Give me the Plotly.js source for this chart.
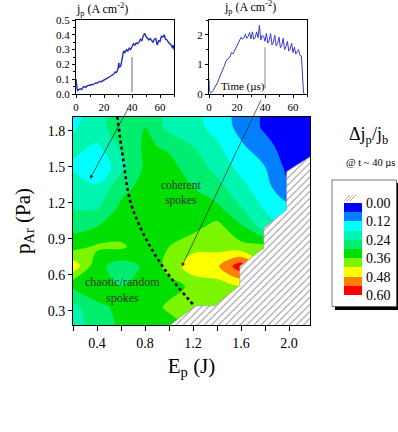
<!DOCTYPE html>
<html><head><meta charset="utf-8">
<script src="https://cdn.plot.ly/plotly-3.0.1.min.js"></script>
<style>html,body{margin:0;padding:0;background:#fff;}#chart{width:398px;height:432px;}</style>
</head><body><div id="chart"></div>
<script>
// ---------- data ----------
const energyJ = [0.2, 0.4, 0.6, 0.8, 1.0, 1.2, 1.4, 1.6, 1.8, 2.0, 2.2];
const pressurePa = [0.18, 0.33, 0.5, 0.67, 0.83, 1.0, 1.17, 1.33, 1.5, 1.67, 1.83, 1.92];
// rows follow pressurePa (bottom to top), columns follow energyJ
const row018 = [0.21, 0.27, 0.31, 0.33, 0.34, 0.36, 0.35, 0.33, 0.30, 0.30, 0.30];
const row033 = [0.22, 0.29, 0.31, 0.33, 0.37, 0.37, 0.36, 0.35, 0.30, 0.30, 0.30];
const row050 = [0.31, 0.33, 0.30, 0.33, 0.34, 0.37, 0.39, 0.41, 0.35, 0.30, 0.30];
const row067 = [0.46, 0.32, 0.27, 0.31, 0.38, 0.46, 0.47, 0.58, 0.40, 0.30, 0.30];
const row083 = [0.34, 0.37, 0.37, 0.33, 0.36, 0.40, 0.40, 0.38, 0.38, 0.30, 0.30];
const row100 = [0.28, 0.30, 0.33, 0.33, 0.33, 0.34, 0.38, 0.31, 0.21, 0.17, 0.17];
const row117 = [0.23, 0.23, 0.31, 0.33, 0.33, 0.32, 0.31, 0.24, 0.17, 0.13, 0.13];
const row133 = [0.21, 0.19, 0.28, 0.32, 0.33, 0.30, 0.26, 0.20, 0.14, 0.07, 0.07];
const row150 = [0.17, 0.12, 0.22, 0.31, 0.32, 0.27, 0.22, 0.16, 0.12, 0.04, 0.04];
const row167 = [0.20, 0.17, 0.25, 0.31, 0.29, 0.24, 0.19, 0.13, 0.08, 0.03, 0.03];
const row183 = [0.17, 0.22, 0.27, 0.30, 0.22, 0.20, 0.16, 0.10, 0.05, 0.02, 0.02];
const row192 = [0.16, 0.21, 0.28, 0.29, 0.22, 0.20, 0.15, 0.10, 0.05, 0.02, 0.02];

// region without data (hatched)
const noDataE = [0.905, 1.01, 1.22, 1.38, 1.59, 1.59, 1.79, 1.79, 1.98, 1.98, 2.25, 2.25, 0.905];
const noDataP = [0.10, 0.18, 0.34, 0.34, 0.51, 0.67, 0.82, 0.99, 1.14, 1.46, 1.63, 0.10, 0.10];

// dotted regime boundary
const regimeE = [0.569, 0.619, 0.675, 0.758, 0.869, 1.008, 1.203];
const regimeP = [1.917, 1.556, 1.22, 1.0, 0.79, 0.583, 0.348];

// colour levels
const levels = [0, 0.06, 0.12, 0.18, 0.24, 0.30, 0.36, 0.42, 0.48, 0.54, 0.60];
const levelColors = ['#0000ff', '#0080ff', '#00ffff', '#00f5b0', '#00ee70', '#00e000', '#7cf500', '#ffff00', '#ff8000', '#ff0000'];
const levelTickVals = [0, 0.12, 0.24, 0.36, 0.48, 0.60];
const levelTickText = ['0.00', '0.12', '0.24', '0.36', '0.48', '0.60'];

// inset 1 (low energy)
const time1 = [0, 0.5, 1, 2, 3, 4, 5, 6, 7, 8,
  9, 10, 11, 12, 13, 14, 15, 16, 17, 18,
  19, 20, 21, 22, 23, 24, 25, 26, 27, 28,
  29, 30, 30.6, 31, 32, 33, 34, 35, 36, 37,
  38, 39, 40, 41, 42, 43, 44, 45, 46, 47,
  48, 49, 50, 51, 52, 53, 54, 55, 56, 57,
  58, 59, 60, 61, 62, 63, 64, 65, 66, 67,
  68, 69, 69.5, 70];
const jp1 = [0.10, 0.04, 0.02, 0.03, 0.035, 0.03, 0.045, 0.05, 0.045, 0.055,
  0.06, 0.058, 0.065, 0.062, 0.07, 0.075, 0.072, 0.08, 0.085, 0.083,
  0.09, 0.095, 0.10, 0.105, 0.11, 0.115, 0.12, 0.13, 0.135, 0.15,
  0.145, 0.17, 0.21, 0.18, 0.19, 0.24, 0.29, 0.28, 0.30, 0.29,
  0.31, 0.30, 0.32, 0.34, 0.33, 0.345, 0.34, 0.35, 0.37, 0.36,
  0.39, 0.41, 0.39, 0.38, 0.365, 0.375, 0.36, 0.35, 0.37, 0.375,
  0.33, 0.36, 0.355, 0.39, 0.385, 0.40, 0.37, 0.365, 0.35, 0.34,
  0.33, 0.31, 0.33, 0.30];
// inset 2 (high energy)
const time2 = [0, 0.3, 1, 2, 3, 4, 5, 6, 7, 8,
  9, 10, 11, 12, 13, 14, 15, 16, 17, 18,
  19, 20, 21, 22, 23, 24, 25, 26, 27, 28,
  29, 30, 31, 32, 33, 34, 35, 36, 37, 38,
  39, 40, 41, 42, 43, 44, 45, 46, 47, 48,
  49, 50, 51, 52, 53, 54, 55, 56, 57, 58,
  59, 60, 61, 62, 63, 64, 65, 66, 66.5, 67,
  67.5, 68];
const jp2 = [0.5, 0.12, 0.05, 0.07, 0.12, 0.2, 0.3, 0.38, 0.5, 0.6,
  0.72, 0.85, 0.95, 1.1, 1.18, 1.22, 1.25, 1.4, 1.35, 1.45,
  1.5, 1.6, 1.72, 1.8, 1.92, 1.85, 1.9, 2.02, 1.88, 1.95,
  2.08, 1.86, 2.1, 1.85, 1.9, 2.1, 1.9, 2.32, 1.82, 1.98,
  1.95, 1.78, 2.05, 1.72, 1.8, 2.04, 1.66, 1.75, 1.98, 1.62,
  1.7, 1.92, 1.56, 1.65, 1.88, 1.5, 1.6, 1.78, 1.45, 1.52,
  1.72, 1.4, 1.58, 1.35, 1.42, 1.5, 1.3, 1.28, 0.9, 0.4,
  0.05, 0.0];
const markTime = 40;
const mark1 = [0.015, 0.25];
const mark2 = [0.19, 1.58];

// ---------- build ----------
const zGrid = [row018, row033, row050, row067, row083, row100, row117, row133, row150, row167, row183, row192];
const zMin = levels[0], zMax = levels[levels.length - 1];
const colorscale = [];
levelColors.forEach((c, i) => {
  colorscale.push([(levels[i] - zMin) / (zMax - zMin), c]);
  colorscale.push([(levels[i + 1] - zMin) / (zMax - zMin), c]);
});
const bandMid = levelColors.map((c, i) => (levels[i] + levels[i + 1]) / 2);

const serif = 'Liberation Serif, serif';

const traces = [
  {
    type: 'contour', x: energyJ, y: pressurePa, z: zGrid,
    xaxis: 'x', yaxis: 'y',
    zmin: zMin, zmax: zMax, autocontour: false,
    contours: {start: zMin, end: zMax, size: levels[1] - levels[0], coloring: 'fill', showlines: false},
    colorscale: colorscale, showscale: false, line: {width: 0}, hoverinfo: 'skip'
  },
  {
    type: 'scatter', mode: 'lines', x: noDataE, y: noDataP, xaxis: 'x', yaxis: 'y',
    fill: 'toself', fillcolor: '#ffffff',
    fillpattern: {shape: '/', size: 5, solidity: 0.18, fgcolor: '#8a8a8a', bgcolor: '#ffffff'},
    line: {color: '#9a9a9a', width: 0.6}, hoverinfo: 'skip'
  },
  {
    type: 'scatter', mode: 'lines', x: regimeE, y: regimeP, xaxis: 'x', yaxis: 'y',
    line: {color: '#000', width: 2.6, dash: 'dot', shape: 'spline'}, hoverinfo: 'skip'
  },
  {
    type: 'scatter', mode: 'lines', x: time1, y: jp1, xaxis: 'x2', yaxis: 'y2',
    line: {color: '#1f2fb8', width: 1.4}, hoverinfo: 'skip'
  },
  {
    type: 'scatter', mode: 'lines', x: time2, y: jp2, xaxis: 'x3', yaxis: 'y3',
    line: {color: '#3a3ad0', width: 1}, hoverinfo: 'skip'
  },
  {
    type: 'heatmap', x: [0], y: bandMid, z: bandMid.map(v => [v]),
    xaxis: 'x4', yaxis: 'y4', zmin: zMin, zmax: zMax,
    colorscale: colorscale, showscale: false, hoverinfo: 'skip'
  }
];

const axBase = {showline: true, linecolor: '#000', linewidth: 1, mirror: true, ticks: 'outside',
  tickcolor: '#000', zeroline: false, showgrid: false, tickfont: {family: serif, size: 14, color: '#000'}};
const insetTick = {family: serif, size: 11, color: '#000'};

const px = v => v / 398, py = v => 1 - v / 432;

const layout = {
  width: 398, height: 432, margin: {l: 0, r: 0, t: 0, b: 0},
  paper_bgcolor: '#fff', plot_bgcolor: '#fff', showlegend: false,
  font: {family: serif, color: '#000'},
  xaxis: Object.assign({}, axBase, {
    domain: [px(73), px(310)], range: [0.2, 2.175], anchor: 'y',
    tick0: 0.4, dtick: 0.4, tickformat: '.1f', ticklen: 5,
    minor: {dtick: 0.2, ticklen: 5, tickcolor: '#000', ticks: 'outside'},
    title: {text: 'E<sub>p</sub> (J)', font: {family: serif, size: 21}, standoff: 8}
  }),
  yaxis: Object.assign({}, axBase, {
    domain: [py(325), py(117)], range: [0.18, 1.915], anchor: 'x',
    tick0: 0.3, dtick: 0.3, tickformat: '.1f', ticklen: 4,
    title: {text: 'p<sub>Ar</sub> (Pa)', font: {family: serif, size: 21}, standoff: 11}
  }),
  xaxis2: Object.assign({}, axBase, {
    domain: [px(76), px(174)], range: [0, 70], anchor: 'y2',
    dtick: 20, ticklen: 3, tickfont: insetTick, minor: {dtick: 10, ticklen: 2, ticks: 'outside'}
  }),
  yaxis2: Object.assign({}, axBase, {
    domain: [py(94), py(20)], range: [0, 0.5], anchor: 'x2',
    dtick: 0.1, tickformat: '.1f', ticklen: 3, tickfont: insetTick, minor: {dtick: 0.05, ticklen: 2, ticks: 'outside'}
  }),
  xaxis3: Object.assign({}, axBase, {
    domain: [px(209), px(307)], range: [0, 70], anchor: 'y3',
    dtick: 20, ticklen: 3, tickfont: insetTick, minor: {dtick: 10, ticklen: 2, ticks: 'outside'}
  }),
  yaxis3: Object.assign({}, axBase, {
    domain: [py(94), py(20)], range: [0, 2.5], anchor: 'x3',
    dtick: 1, ticklen: 3, tickfont: insetTick, minor: {dtick: 0.5, ticklen: 2, ticks: 'outside'}
  }),
  xaxis4: {domain: [px(344), px(362)], range: [-0.5, 0.5], anchor: 'y4', visible: false, fixedrange: true},
  yaxis4: {domain: [py(295), py(203)], range: [zMax, zMin], anchor: 'x4', side: 'right',
    showline: false, zeroline: false, showgrid: false, ticks: '',
    tickvals: levelTickVals, ticktext: levelTickText, ticklabelstandoff: 3,
    tickfont: {family: serif, size: 14, color: '#000'}},
  shapes: [
    {type: 'rect', xref: 'paper', yref: 'paper', x0: px(335), x1: px(400), y0: py(310), y1: py(183),
      fillcolor: '#000', line: {width: 0}, layer: 'below'},
    {type: 'rect', xref: 'paper', yref: 'paper', x0: px(332), x1: px(396.5), y0: py(306.5), y1: py(180),
      fillcolor: '#fff', line: {color: '#555', width: 0.8}, layer: 'below'},
    {type: 'line', xref: 'paper', yref: 'paper', x0: px(344), x1: px(350), y0: py(201), y1: py(195), line: {color: '#999', width: 0.8}},
    {type: 'line', xref: 'paper', yref: 'paper', x0: px(347), x1: px(353), y0: py(201), y1: py(195), line: {color: '#999', width: 0.8}},
    {type: 'line', xref: 'paper', yref: 'paper', x0: px(350), x1: px(356), y0: py(201), y1: py(195), line: {color: '#999', width: 0.8}},
    {type: 'line', xref: 'x2', yref: 'y2', x0: markTime, x1: markTime, y0: mark1[0], y1: mark1[1], line: {color: '#444', width: 0.8}},
    {type: 'line', xref: 'x3', yref: 'y3', x0: markTime, x1: markTime, y0: mark2[0], y1: mark2[1], line: {color: '#666', width: 0.8}}
  ],
  annotations: [
    {xref: 'paper', yref: 'paper', x: px(74), y: py(10), xanchor: 'left', yanchor: 'middle', showarrow: false,
      text: 'j<sub>p</sub> (A cm<sup>-2</sup>)', font: {family: serif, size: 12}},
    {xref: 'paper', yref: 'paper', x: px(222), y: py(8), xanchor: 'left', yanchor: 'middle', showarrow: false,
      text: 'j<sub>p</sub> (A cm<sup>-2</sup>)', font: {family: serif, size: 12}},
    {xref: 'x3', yref: 'y3', x: 24, y: 0.24, showarrow: false, text: 'Time (\u00b5s)', font: {family: serif, size: 11}},
    {xref: 'paper', yref: 'paper', x: px(368), y: py(122), xanchor: 'center', yanchor: 'top', showarrow: false,
      text: '\u0394j<sub>p</sub>/j<sub>b</sub>', font: {family: serif, size: 18}},
    {xref: 'paper', yref: 'paper', x: px(370), y: py(162), xanchor: 'center', yanchor: 'middle', showarrow: false,
      text: '@ t ~ 40 \u00b5s', font: {family: serif, size: 10.5}},
    {xref: 'x', yref: 'y', x: 1.1, y: 1.28, showarrow: false, text: 'coherent<br>spokes',
      font: {family: serif, size: 11.5, color: '#333'}},
    {xref: 'x', yref: 'y', x: 0.61, y: 0.47, showarrow: false, text: 'chaotic/random<br>spokes',
      font: {family: serif, size: 12, color: '#333'}},
    {xref: 'x', yref: 'y', x: 0.342, y: 1.40, ax: 39, ay: -72, showarrow: true,
      arrowhead: 2, arrowsize: 1.1, arrowwidth: 0.7, arrowcolor: '#222', standoff: 0, text: ''},
    {xref: 'x', yref: 'y', x: 1.106, y: 0.667, ax: 80, ay: -168, showarrow: true,
      arrowhead: 2, arrowsize: 1.1, arrowwidth: 0.7, arrowcolor: '#222', standoff: 0, text: ''}
  ]
};

Plotly.newPlot('chart', traces, layout, {staticPlot: true, displayModeBar: false});
</script></body></html>
